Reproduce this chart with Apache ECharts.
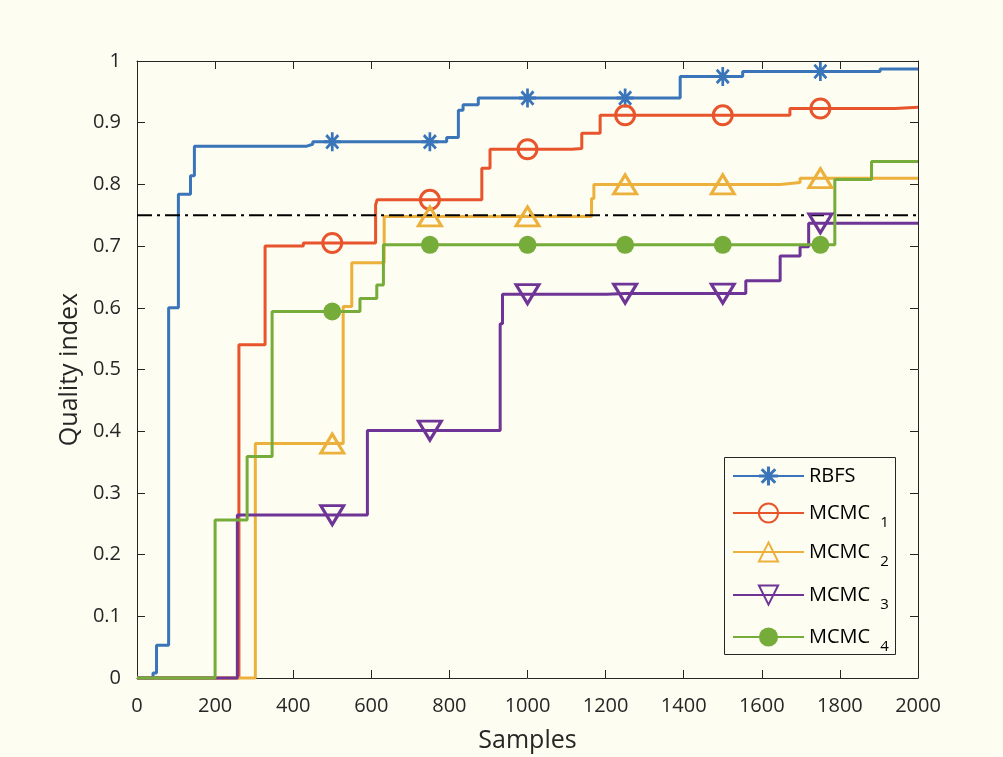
<!DOCTYPE html>
<html>
<head>
<meta charset="utf-8">
<script src="https://cdn.jsdelivr.net/npm/echarts@6/dist/echarts.min.js"></script>
<style>
  html, body { margin: 0; padding: 0; background: #FDFDF1; }
  #chart { width: 1003px; height: 757px; }
</style>
</head>
<body>
<div id="chart"></div>
<script>
// ---- Data ----
const xRange = [0, 2000];
const yRange = [0, 1];
const threshold = 0.75;

const seriesNames = ['RBFS', 'MCMC1', 'MCMC2', 'MCMC3', 'MCMC4'];

// stair-step change points [samples, quality index]
const rbfsSteps = [[0,0],[41,0.008],[50,0.053],[81,0.6],[106,0.784],[137,0.814],[147,0.862],[435,0.865],[450,0.869],[793,0.876],[823,0.92],[835,0.929],[874,0.94],[1391,0.975],[1551,0.983],[1903,0.987],[2000,0.987]];
const mcmc1Steps = [[0,0],[261,0.54],[328,0.70],[426,0.705],[611,0.767],[615,0.775],[883,0.826],[904,0.857],[1113,0.858],[1139,0.883],[1186,0.912],[1672,0.923],[1941,0.925],[2000,0.925]];
const mcmc2Steps = [[0,0],[303,0.38],[528,0.602],[550,0.673],[633,0.748],[1164,0.777],[1170,0.80],[1647,0.803],[1698,0.81],[2000,0.81]];
const mcmc3Steps = [[0,0],[257,0.264],[590,0.401],[930,0.574],[936,0.622],[1203,0.623],[1559,0.644],[1647,0.684],[1698,0.699],[1720,0.737],[2000,0.737]];
const mcmc4Steps = [[0,0],[200,0.256],[282,0.359],[346,0.594],[571,0.615],[614,0.637],[631,0.702],[1787,0.808],[1881,0.837],[2000,0.837]];

// marker positions and marker values
const markerX = [500, 750, 1000, 1250, 1500, 1750];
const rbfsMarks  = [0.869, 0.869, 0.94, 0.94, 0.975, 0.983];
const mcmc1Marks = [0.705, 0.775, 0.857, 0.912, 0.912, 0.923];
const mcmc2Marks = [0.38, 0.748, 0.748, 0.80, 0.80, 0.81];
const mcmc3Marks = [0.264, 0.401, 0.622, 0.623, 0.623, 0.737];
const mcmc4Marks = [0.594, 0.702, 0.702, 0.702, 0.702, 0.702];

// ---- Styling ----
const BG = '#FDFDF1';
const AX = '#262626';
const FONT = 'Open Sans';
const LW = 3;
const colors = ['#3A74B9', '#E8552C', '#ECB03C', '#6E3496', '#76AC3A'];
const STAR = 'path://M-1.6,-10L1.6,-10L1.6,10L-1.6,10Z M-10,-1.6L10,-1.6L10,1.6L-10,1.6Z M-5.94,-8.2L8.2,5.94L5.94,8.2L-8.2,-5.94Z M8.2,-5.94L-5.94,8.2L-8.2,5.94L5.94,-8.2Z';

const markerStyles = [
  { symbol: STAR, symbolSize: [17, 19], symbolRotate: 0, itemStyle: { color: colors[0], borderWidth: 0 } },
  { symbol: 'circle', symbolSize: 19, symbolRotate: 0, itemStyle: { color: 'rgba(0,0,0,0)', borderColor: colors[1], borderWidth: 3 } },
  { symbol: 'triangle', symbolSize: [23, 19], symbolRotate: 0, itemStyle: { color: 'rgba(0,0,0,0)', borderColor: colors[2], borderWidth: 3 } },
  { symbol: 'triangle', symbolSize: [23, 19], symbolRotate: 180, itemStyle: { color: 'rgba(0,0,0,0)', borderColor: colors[3], borderWidth: 3 } },
  { symbol: 'circle', symbolSize: 18, symbolRotate: 0, itemStyle: { color: colors[4], borderWidth: 0 } }
];

function buildData(steps, marks) {
  const pts = steps.map(p => ({ value: [p[0], p[1]], symbol: 'none' }));
  markerX.forEach((x, i) => pts.push({ value: [x, marks[i]] }));
  pts.sort((a, b) => a.value[0] - b.value[0]);
  return pts;
}

const allSteps = [rbfsSteps, mcmc1Steps, mcmc2Steps, mcmc3Steps, mcmc4Steps];
const allMarks = [rbfsMarks, mcmc1Marks, mcmc2Marks, mcmc3Marks, mcmc4Marks];

const series = seriesNames.map((name, i) => ({
  name: name,
  type: 'line',
  step: 'end',
  clip: false,
  showSymbol: true,
  symbol: markerStyles[i].symbol,
  symbolSize: markerStyles[i].symbolSize,
  symbolRotate: markerStyles[i].symbolRotate,
  itemStyle: markerStyles[i].itemStyle,
  lineStyle: { color: colors[i], width: LW },
  emphasis: { disabled: true },
  animation: false,
  data: buildData(allSteps[i], allMarks[i])
}));

series.push({
  name: 'threshold',
  type: 'line',
  symbol: 'none',
  clip: false,
  lineStyle: { color: '#000', width: 2, type: [15, 5, 3, 5] },
  emphasis: { disabled: true },
  animation: false,
  z: 3,
  data: [[xRange[0], threshold], [xRange[1], threshold]]
});

const richText = {
  m: { fontSize: 20, lineHeight: 34, verticalAlign: 'middle', color: '#000', fontFamily: FONT },
  s: { fontSize: 15, lineHeight: 15, verticalAlign: 'top', color: '#000', fontFamily: FONT, padding: [19, 0, 0, 10] }
};
const legendTops = [466, 496, 535, 578, 620];
const legends = seriesNames.map((name, i) => ({
  data: [name],
  left: 732,
  top: legendTops[i],
  padding: 0,
  orient: 'vertical',
  itemWidth: 71,
  itemHeight: 24,
  selectedMode: false,
  z: 10,
  formatter: function (n) {
    return n === 'RBFS' ? '{m|RBFS}' : '{m|MCMC}{s|' + n.slice(4) + '}';
  },
  textStyle: { rich: richText }
}));

const axisCommon = {
  type: 'value',
  splitLine: { show: false },
  axisLine: { show: true, onZero: false, lineStyle: { color: AX, width: 1 } },
  axisTick: { show: true, inside: true, length: 8, lineStyle: { color: AX, width: 1 } }
};

const option = {
  backgroundColor: BG,
  animation: false,
  grid: { left: 137, right: 85, top: 61, bottom: 79, outerBoundsMode: 'none', containLabel: false },
  xAxis: [
    Object.assign({}, axisCommon, {
      position: 'bottom', min: xRange[0], max: xRange[1], interval: 200,
      name: 'Samples', nameLocation: 'middle', nameGap: 50,
      nameTextStyle: { fontSize: 25, color: AX, fontFamily: FONT },
      axisLabel: { fontSize: 20, color: AX, fontFamily: FONT, margin: 18, formatter: v => String(v) }
    }),
    Object.assign({}, axisCommon, {
      position: 'top', min: xRange[0], max: xRange[1], interval: 200,
      axisLabel: { show: false }
    })
  ],
  yAxis: [
    Object.assign({}, axisCommon, {
      position: 'left', min: yRange[0], max: yRange[1], interval: 0.1,
      name: 'Quality index', nameLocation: 'middle', nameGap: 54,
      nameTextStyle: { fontSize: 25, color: AX, fontFamily: FONT },
      axisLabel: { fontSize: 20, color: AX, fontFamily: FONT, margin: 16 }
    }),
    Object.assign({}, axisCommon, {
      position: 'right', min: yRange[0], max: yRange[1], interval: 0.1,
      axisLabel: { show: false }
    })
  ],
  legend: legends,
  graphic: [{
    type: 'rect', z: 5,
    shape: { x: 724.5, y: 457.5, width: 171, height: 197 },
    style: { fill: BG, stroke: AX, lineWidth: 1 }
  }],
  series: series
};

const chart = echarts.init(document.getElementById('chart'), null, { renderer: 'canvas' });
chart.setOption(option);
</script>
</body>
</html>
